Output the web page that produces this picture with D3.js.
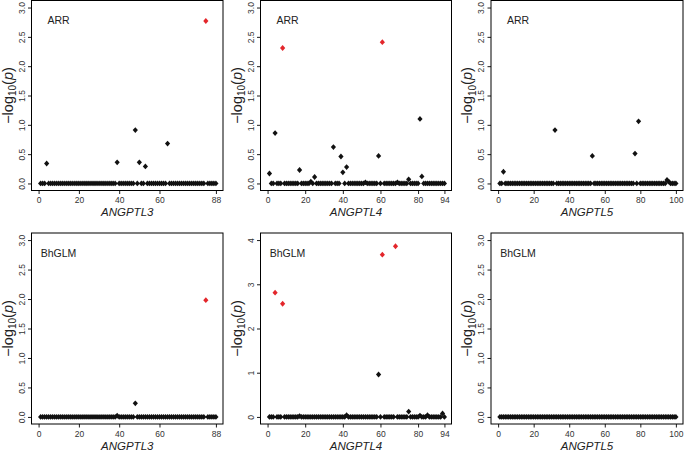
<!DOCTYPE html>
<html>
<head>
<meta charset="utf-8">
<script src="https://cdn.jsdelivr.net/npm/d3@7"></script>
<style>
  body { margin: 0; background: #fff; }
  svg { display: block; font-family: "Liberation Sans", Arial, sans-serif; }
</style>
</head>
<body>
<div id="chart"></div>
<script>
var genes = ["ANGPTL3", "ANGPTL4", "ANGPTL5"];
var variantCounts = [88, 94, 100];
var methods = ["ARR", "BhGLM"];
var xTickValues = [[0, 20, 40, 60, 88], [0, 20, 40, 60, 80, 94], [0, 20, 40, 60, 80, 100]];
var yMaxArr = [3, 3, 3];
var yMaxBhglm = [3, 4, 3];

// -log10(p) for variants that are not 0, as [variant, value]; all other variants are 0
var arrAngptl3 = [[4, 0.34], [39, 0.36], [48, 0.91], [50, 0.36], [53, 0.29], [64, 0.68], [83, 2.77]];
var arrAngptl4 = [[1, 0.17], [4, 0.86], [8, 2.31], [17, 0.23], [23, 0.03], [25, 0.11], [35, 0.62],
  [39, 0.46], [40, 0.19], [42, 0.28], [52, 0.02], [59, 0.47], [61, 2.41], [69, 0.02], [75, 0.07],
  [81, 1.10], [82, 0.12]];
var arrAngptl5 = [[3, 0.20], [32, 0.91], [53, 0.47], [77, 0.51], [79, 1.06], [95, 0.06], [96, 0.03]];
var bhglmAngptl3 = [[39, 0.02], [48, 0.23], [83, 1.98]];
var bhglmAngptl4 = [[4, 2.81], [8, 2.56], [17, 0.02], [42, 0.04], [59, 0.96], [61, 3.67], [68, 3.86],
  [75, 0.12], [81, 0.03], [85, 0.04], [93, 0.08]];
var bhglmAngptl5 = [];

// variants drawn in red
var arrHighlight = [[83], [8, 61], []];
var bhglmHighlight = [[83], [4, 8, 61, 68], []];

var W = 684, H = 452;
var colX = [[31.5, 223], [260.5, 451.5], [491, 683]];
var rowY = [[0.5, 190.5], [233, 424]];
var RED = "#e3262b", BLACK = "#111";

var svg = d3.select("#chart").append("svg")
  .attr("width", W).attr("height", H);

var panels = [];
[arrAngptl3, arrAngptl4, arrAngptl5].forEach(function (d, i) {
  panels.push({ row: 0, col: i, label: methods[0], vals: d, hi: arrHighlight[i], ymax: yMaxArr[i] });
});
[bhglmAngptl3, bhglmAngptl4, bhglmAngptl5].forEach(function (d, i) {
  panels.push({ row: 1, col: i, label: methods[1], vals: d, hi: bhglmHighlight[i], ymax: yMaxBhglm[i] });
});

var diamond = "M0,-2.9L2.6,0L0,2.9L-2.6,0Z";

panels.forEach(function (p) {
  var n = variantCounts[p.col];
  var x0 = colX[p.col][0], x1 = colX[p.col][1];
  var y0 = rowY[p.row][0], y1 = rowY[p.row][1];
  var x = d3.scaleLinear().domain([-0.04 * n, 1.04 * n]).range([x0, x1]);
  var y = d3.scaleLinear().domain([-0.04 * p.ymax, 1.04 * p.ymax]).range([y1, y0]);

  var lookup = new Map(p.vals);
  var pts = d3.range(1, n + 1).map(function (v) {
    return { v: v, p: lookup.has(v) ? lookup.get(v) : 0, hi: p.hi.indexOf(v) >= 0 };
  });
  pts.sort(function (a, b) { return a.hi - b.hi; });

  var g = svg.append("g");

  var yTicks = p.ymax === 4 ? [0, 1, 2, 3, 4] : [0, 0.5, 1, 1.5, 2, 2.5, 3];
  var yFmt = p.ymax === 4 ? d3.format("d") : d3.format(".1f");

  var xAxis = g.append("g").attr("transform", "translate(0," + y1 + ")")
    .call(d3.axisBottom(x).tickValues(xTickValues[p.col]).tickSize(3.5).tickSizeOuter(0).tickPadding(3));
  var yAxis = g.append("g").attr("transform", "translate(" + x0 + ",0)")
    .call(d3.axisLeft(y).tickValues(yTicks).tickFormat(yFmt).tickSize(3.5).tickSizeOuter(0));

  [xAxis, yAxis].forEach(function (a) {
    a.select(".domain").remove();
    a.selectAll("line").attr("stroke", "#000").attr("stroke-width", 0.9);
    a.selectAll("text").attr("fill", "#333").style("font-size", "8.5px");
    a.attr("font-family", null).attr("font-size", null);
  });
  xAxis.selectAll("text").attr("y", 6.5).attr("dy", "0.71em");
  yAxis.selectAll("text")
    .attr("transform", "rotate(-90)")
    .attr("x", 0).attr("y", -9.5).attr("dy", "0.35em")
    .attr("text-anchor", "middle");

  g.append("rect")
    .attr("x", x0).attr("y", y0)
    .attr("width", x1 - x0).attr("height", y1 - y0)
    .attr("fill", "none").attr("stroke", "#000").attr("stroke-width", 1);

  g.append("g").selectAll("path").data(pts).join("path")
    .attr("d", diamond)
    .attr("transform", function (d) { return "translate(" + x(d.v) + "," + y(d.p) + ")"; })
    .attr("fill", function (d) { return d.hi ? RED : BLACK; });

  g.append("text")
    .attr("x", x0 + 27).attr("y", y0 + 20).attr("dy", "0.35em")
    .attr("text-anchor", "middle")
    .style("font-size", "10.5px").attr("fill", "#222")
    .text(p.label);

  g.append("text")
    .attr("x", (x0 + x1) / 2).attr("y", y1 + 21.5).attr("dy", "0.35em")
    .attr("text-anchor", "middle")
    .style("font-size", "11.5px").style("font-style", "italic").attr("fill", "#222")
    .text(genes[p.col]);

  var yl = g.append("text")
    .attr("transform", "translate(" + (x0 - 24) + "," + ((y0 + y1) / 2) + ") rotate(-90)")
    .attr("dy", "0.35em")
    .attr("text-anchor", "middle")
    .style("font-size", "14.5px").attr("fill", "#222");
  yl.append("tspan").text("\u2212log");
  yl.append("tspan").attr("dy", 3.5).style("font-size", "10px").text("10");
  yl.append("tspan").attr("dy", -3.5).text("(");
  yl.append("tspan").style("font-style", "italic").text("p");
  yl.append("tspan").text(")");
});
</script>
</body>
</html>
